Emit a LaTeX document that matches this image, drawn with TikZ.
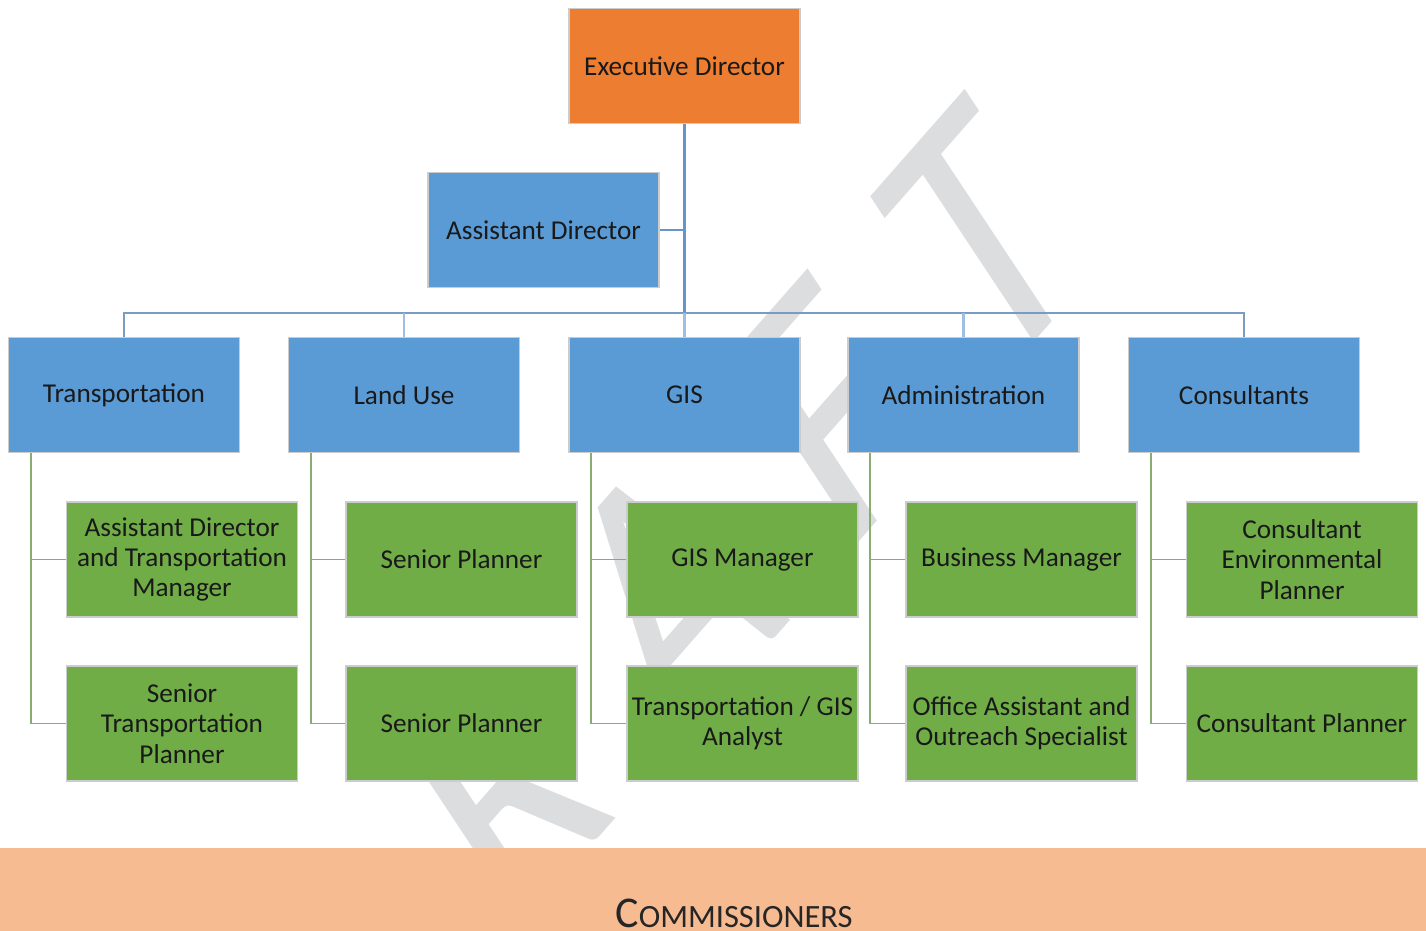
\documentclass[tikz,border=0pt]{standalone}
\usepackage{fontspec}
\setmainfont{Carlito}
\definecolor{execorange}{RGB}{237,125,49}
\definecolor{deptblue}{RGB}{91,155,213}
\definecolor{staffgreen}{RGB}{112,173,71}
\definecolor{bandorange}{RGB}{247,187,146}
\definecolor{wmgrey}{RGB}{220,221,223}
\definecolor{headblue}{RGB}{100,150,205}
\definecolor{busblue}{RGB}{122,155,195}
\definecolor{dropblue}{RGB}{160,190,225}
\definecolor{stafflinegreen}{RGB}{138,172,112}

\tikzset{
  box/.style={rectangle, draw=black!20, line width=0.9pt, minimum width=4.62cm, minimum height=2.3cm,
    inner sep=0pt, align=center, text=black!90, font=\fontsize{15.5}{17.3}\selectfont},
  topbox/.style={box, fill=execorange},
  deptbox/.style={box, fill=deptblue},
  staffbox/.style={box, fill=staffgreen},
  headline/.style={headblue, line width=1.6pt},
  busline/.style={busblue, line width=1.4pt},
  dropline/.style={dropblue, line width=1.2pt},
  staffline/.style={stafflinegreen, line width=1.1pt},
  wmark/.style={text=wmgrey, inner sep=0pt, font=\fontsize{202}{202}\selectfont}
}

\begin{document}
\begin{tikzpicture}[x=0.02cm, y=-0.02cm]
%\draw [lightgray](0,0) grid (1426,930);
\useasboundingbox (0,0) rectangle (1426,930);

\begin{scope}[shift={(648,616)}, cm={0.574,0.653,-0.55,0.83,(0,0)}] % marca
\node [wmark, transform shape] (draft) at (0,0) {D\hspace{54pt}R\hspace{54pt}A\hspace{54pt}F\hspace{54pt}T};
\end{scope}

\node [topbox] (exec) at (684.5,66) {Executive Director}; % topo
\node [deptbox] (asst) at (543.5,230) {Assistant Director};
\coordinate (hub) at (684.5,313);
\draw [headline](exec.south) -- (hub);
\draw [headline](asst.east) -- (asst.east -| exec.south);

\node [deptbox] (trans) at ( 124,395) {Transportation}; % setores
\node [deptbox] (land)  at ( 404,395) {Land Use};
\node [deptbox] (gis)   at (684.5,395) {GIS};
\node [deptbox] (admin) at (963.5,395) {Administration};
\node [deptbox] (cons)  at (1244,395) {Consultants};
\draw [busline](trans.north) |- (hub) -| (cons.north);
\draw [dropline](land.north) -- (land.north |- hub);
\draw [dropline](gis.north) -- (hub);
\draw [dropline](admin.north) -- (admin.north |- hub);

\node [staffbox] (ta) at ( 182,559.5) {Assistant Director\\and Transportation\\Manager}; % Transportation
\node [staffbox] (tb) at ( 182,723.5) {Senior\\Transportation\\Planner};
\draw [staffline]([xshift=0.46cm]trans.south west) |- (ta.west);
\draw [staffline]([xshift=0.46cm]trans.south west) |- (tb.west);

\node [staffbox] (la) at (461.5,559.5) {Senior Planner}; % Land Use
\node [staffbox] (lb) at (461.5,723.5) {Senior Planner};
\draw [staffline]([xshift=0.46cm]land.south west) |- (la.west);
\draw [staffline]([xshift=0.46cm]land.south west) |- (lb.west);

\node [staffbox] (ga) at (742.5,559.5) {GIS Manager}; % GIS
\node [staffbox] (gb) at (742.5,723.5) {Transportation / GIS\\Analyst};
\draw [staffline]([xshift=0.46cm]gis.south west) |- (ga.west);
\draw [staffline]([xshift=0.46cm]gis.south west) |- (gb.west);

\node [staffbox] (aa) at (1021.5,559.5) {Business Manager}; % Administration
\node [staffbox] (ab) at (1021.5,723.5) {Office Assistant and\\Outreach Specialist};
\draw [staffline]([xshift=0.46cm]admin.south west) |- (aa.west);
\draw [staffline]([xshift=0.46cm]admin.south west) |- (ab.west);

\node [staffbox] (ca) at (1302,559.5) {Consultant\\Environmental\\Planner}; % Consultants
\node [staffbox] (cb) at (1302,723.5) {Consultant Planner};
\draw [staffline]([xshift=0.46cm]cons.south west) |- (ca.west);
\draw [staffline]([xshift=0.46cm]cons.south west) |- (cb.west);

\fill [bandorange](-10,848) rectangle (1436,945); % faixa
\node [anchor=base, text=black!85] (comm) at (734,927) {\fontsize{25}{25}\selectfont C\fontsize{18.5}{19}\selectfont OMMISSIONERS};

\end{tikzpicture}
\end{document}
